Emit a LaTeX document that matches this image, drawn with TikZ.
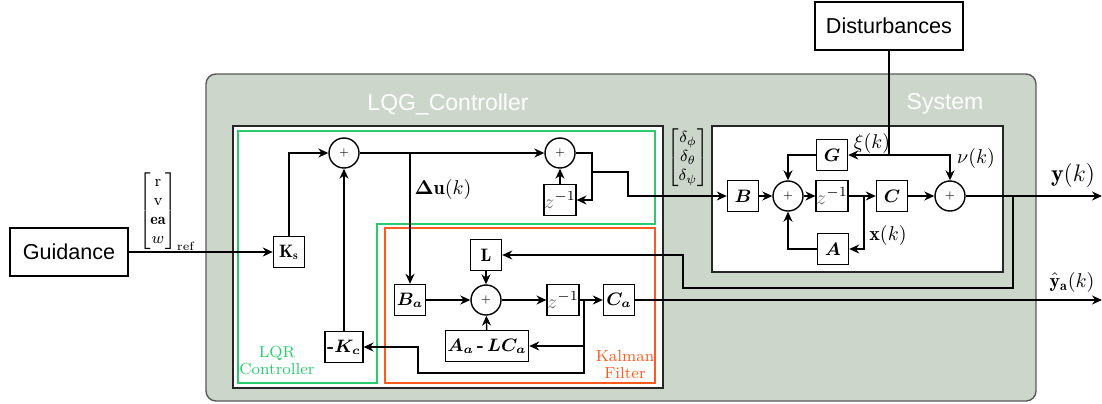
\documentclass[tikz,border=0pt]{standalone}
\usepackage{amsmath,amssymb}
\usepackage{fontspec}
\newfontfamily\arial{Liberation Sans}
\usetikzlibrary{arrows.meta}
\definecolor{panelgray}{RGB}{204,214,203}
\definecolor{lqrgreen}{RGB}{40,204,110}
\definecolor{kforange}{RGB}{255,90,30}

\begin{document}
\begin{tikzpicture}[x=0.5pt, y=-0.5pt, line width=0.7pt, font=\small,
  blk/.style={draw, fill=white, minimum size=15.5pt, inner sep=1pt},
  sumc/.style={draw, circle, fill=white, minimum size=15pt, inner sep=0pt, font=\tiny},
  outer/.style={draw, fill=white, minimum width=59pt, minimum height=24pt, font=\arial\fontsize{10.8}{12}\selectfont},
  arr/.style={-{Stealth[length=5pt,width=4.5pt]}},
  zinv/.style={blk, inner sep=0pt, font=\normalsize}]
\useasboundingbox (0,0) rectangle (1102,403);
% panels
\draw[black!65, fill=panelgray, rounded corners=5pt] (206,74) rectangle (1036,401);
\node[text=white, font=\arial\fontsize{11.5}{13}\selectfont] (lqgtitle) at (448,104) {LQG\_Controller};
\node[text=white, font=\arial\fontsize{11.5}{13}\selectfont] (systitle) at (945,104) {System};
\draw[black!85, fill=white] (233,126) rectangle (663,388);
\draw[black!85, fill=white] (712,126) rectangle (1003,272);
\draw[lqrgreen] (238,131) -- (655,131) -- (655,224) -- (377,224) -- (377,383) -- (238,383) -- cycle;
\draw[kforange] (385,228) rectangle (655,383);
\node[text=lqrgreen, align=center, font=\footnotesize, inner sep=0pt] (lqrtxt) at (277,361) {LQR\\[-1pt]Controller};
\node[text=kforange, align=center, font=\footnotesize, inner sep=0pt] (kftxt) at (625,365) {Kalman\\[-1pt]Filter};

% outside blocks
\node[outer] (guid) at (69,252) {Guidance};
\node[outer, minimum width=74pt] (dist) at (889,26) {Disturbances};
\node[font=\footnotesize, inner sep=0pt] (rvec) at (167,212) {$\begin{bmatrix}\mathrm{r}\\ \mathrm{v}\\ \mathbf{ea}\\ w\end{bmatrix}_{\mathrm{ref}}$};

% LQR part
\node[blk] (ks) at (289,252) {$\mathbf{K_s}$};
\node[sumc] (s1) at (344,153) {$+$};
\node[sumc] (s2) at (560,153) {$+$};
\node[zinv] (z1) at (560,200) {$\textcolor{black!55}{z}^{-1}$};
\node[blk] (kc) at (344,347) {\textbf{-}$\boldsymbol{K_c}$};
\node (dulbl) at (443,189) {\normalsize$\boldsymbol{\Delta}\mathbf{u}(k)$};
\coordinate (du) at (410,153);
\coordinate (c1) at (592,172);
\coordinate (c2) at (628,172);

% Kalman part
\node[blk] (ba) at (410,300) {$\boldsymbol{B_a}$};
\node[blk] (lg) at (486,255) {$\mathbf{L}$};
\node[sumc] (s3) at (486,300) {$+$};
\node[zinv] (z2) at (563,300) {$\textcolor{black!55}{z}^{-1}$};
\node[blk] (ca) at (619,300) {$\boldsymbol{C_a}$};
\node[blk, minimum width=30.5pt] (alc) at (487,346) {$\boldsymbol{A_a}$\,\textbf{-}\,$\boldsymbol{LC_a}$};
\coordinate (kj) at (584,300);
\coordinate (kb) at (418,373);

% System
\node[font=\footnotesize, inner sep=0pt] (dvec) at (688,158) {$\begin{bmatrix}\delta_\phi\\ \delta_\theta\\ \delta_\psi\end{bmatrix}$};
\node[blk] (bm) at (743,196) {$\boldsymbol{B}$};
\node[sumc] (s4) at (788,196) {$+$};
\node[zinv] (z3) at (832,196) {$\textcolor{black!55}{z}^{-1}$};
\node[blk] (cm) at (892,196) {$\boldsymbol{C}$};
\node[sumc] (s5) at (950,196) {$+$};
\node[blk] (gm) at (832,155) {$\boldsymbol{G}$};
\node[blk] (am) at (833,249) {$\boldsymbol{A}$};
\coordinate (xk) at (864,196);
\coordinate (dj) at (889,155);
\node[font=\normalsize] (xilbl) at (872,143) {$\xi(k)$};
\node[font=\normalsize] (nulbl) at (976,158) {$\nu(k)$};
\node[font=\normalsize] (xlbl) at (888,235) {$\mathbf{x}(k)$};

% outputs
\coordinate (yb) at (1013,196);
\coordinate (lb) at (683,288);
\coordinate (yout) at (1102,196);
\coordinate (yaout) at (1102,300);
\node[font=\large] (ylbl) at (1073,175) {$\mathbf{y}(k)$};
\node[font=\normalsize] (yalbl) at (1072,282) {$\hat{\mathbf{y}}_{\mathbf{a}}(k)$};

% connectors
\draw[arr] (guid) -- (ks);
\draw[arr] (ks.north) |- (s1.west);
\draw[arr] (kc) -- (s1);
\draw[arr] (s1) -- (s2);
\draw[arr] (du) -- (ba.north);
\draw[arr] (s2.east) -| (c1) |- (z1.east);
\draw[arr] (z1) -- (s2);
\draw[arr] (c1) -- (c2) |- (bm.west);
\draw[arr] (bm) -- (s4);
\draw[arr] (s4) -- (z3);
\draw[arr] (z3) -- (cm);
\draw[arr] (cm) -- (s5);
\draw[arr] (s5) -- (yout);
\draw[arr] (xk) |- (am.east);
\draw[arr] (am.west) -| (s4.south);
\draw[arr] (gm.west) -| (s4.north);
\draw (dist) -- (dj);
\draw[arr] (dj) -- (gm.east);
\draw[arr] (dj) -| (s5.north);
\draw[arr] (yb) |- (lb) |- (lg.east);
\draw[arr] (lg) -- (s3);
\draw[arr] (ba) -- (s3);
\draw[arr] (s3) -- (z2);
\draw[arr] (z2) -- (ca);
\draw[arr] (ca) -- (yaout);
\draw[arr] (alc) -- (s3);
\draw[arr] (kj) |- (alc.east);
\draw[arr] (kj) |- (kb) |- (kc.east);
\end{tikzpicture}
\end{document}
